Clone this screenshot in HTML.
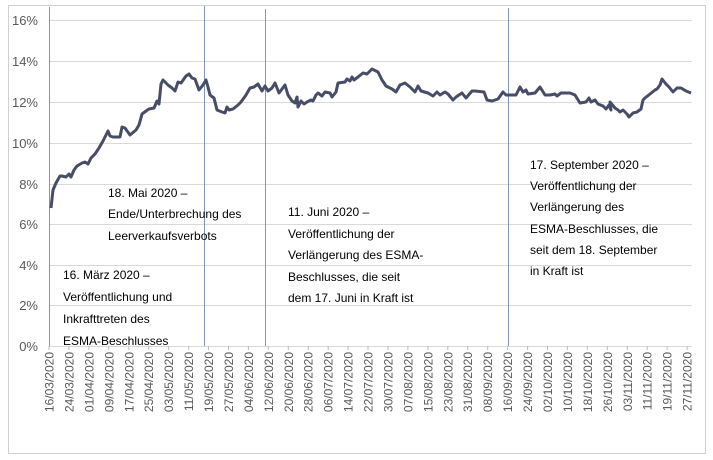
<!DOCTYPE html>
<html><head><meta charset="utf-8"><style>
body{margin:0;background:#fff;}
svg{display:block;font-family:"Liberation Sans",sans-serif;}
</style></head><body>
<svg width="713" height="460" viewBox="0 0 713 460">
<rect x="8.5" y="5.5" width="697" height="448" fill="#fff" stroke="#d0d0d0"/>
<g stroke="#d9d9d9" stroke-width="1">
<line x1="49" x2="692" y1="20.5" y2="20.5"/>
<line x1="49" x2="692" y1="61.5" y2="61.5"/>
<line x1="49" x2="692" y1="102.5" y2="102.5"/>
<line x1="49" x2="692" y1="143.5" y2="143.5"/>
<line x1="49" x2="692" y1="184.5" y2="184.5"/>
<line x1="49" x2="692" y1="224.5" y2="224.5"/>
<line x1="49" x2="692" y1="265.5" y2="265.5"/>
<line x1="49" x2="692" y1="305.5" y2="305.5"/>
<line x1="49" x2="692" y1="346.5" y2="346.5"/>
</g>
<g fill="#595959" font-size="13" text-anchor="end">
<text x="38" y="25">16%</text><text x="38" y="66">14%</text><text x="38" y="107">12%</text>
<text x="38" y="148">10%</text><text x="38" y="189">8%</text><text x="38" y="229">6%</text>
<text x="38" y="270">4%</text><text x="38" y="310">2%</text><text x="38" y="351">0%</text>
</g>
<g stroke="#7f97b5" stroke-width="1">
<line x1="49.5" x2="49.5" y1="7" y2="346"/>
<line x1="204.5" x2="204.5" y1="6" y2="346"/>
<line x1="265.5" x2="265.5" y1="9" y2="346"/>
<line x1="508.5" x2="508.5" y1="8" y2="346"/>
</g>
<polyline fill="none" stroke="#474d66" stroke-width="3" stroke-linejoin="round" points="51,208 53,190 56,183 60,176 62,176 66,177 69,174 71,177 74,170 77,166 82,163 85,162 88,164 91,158 95,154 99,148 103,141 107,133 108,131 110,136 113,137 120,137 122,127 125,128 130,135 136,130 139,125 142,114 146,111 149,109 154,108 157,101 159,104 161,84 163,80 168,85 172,88 175,91 178,82 181,83 186,76 189,74 192,78 195,79 199,90 203,85 206,80 208,87 210,95 214,98 217,110 222,112 225,113 227,107 229,110 233,109 238,105 241,102 246,95 250,88 254,87 258,84 262,91 265,86 268,91 272,88 275,83 279,93 282,89 285,85 288,95 292,101 295,103 297,97 298,107 301,101 304,104 307,102 311,100 313,101 316,95 318,93 322,96 325,92 330,93 332,97 336,92 338,83 345,82 347,79 350,81 352,77 354,80 358,77 363,73 367,74 372,69 378,72 382,80 386,86 392,89 396,92 400,85 405,83 410,87 415,92 418,86 421,91 428,93 433,96 437,92 440,95 445,92 448,94 453,100 456,97 462,93 466,98 472,91 475,91 484,92 487,100 492,101 498,99 503,92 506,95 510,95 516,95 520,87 523,92 526,90 528,94 535,93 540,87 545,95 550,95 555,94 557,96 561,93 570,93 575,95 580,103 586,102 589,98 591,102 595,100 598,104 603,106 606,109 609,105 611,110 610,102 615,108 618,110 620,112 623,110 627,114 629,117 633,113 637,112 641,109 643,100 645,98 650,94 655,90 657,89 660,85 662,79 666,84 669,87 673,92 677,88 681,88 686,91 691,93"/>
<g fill="#000" font-size="12">
<text x="63" y="279">16. März 2020 –</text><text x="63" y="301">Veröffentlichung und</text>
<text x="63" y="323">Inkrafttreten des</text><text x="63" y="345">ESMA-Beschlusses</text>
<text x="108" y="197">18. Mai 2020 –</text><text x="108" y="218">Ende/Unterbrechung des</text>
<text x="108" y="240">Leerverkaufsverbots</text>
<text x="288" y="216">11. Juni 2020 –</text><text x="288" y="238">Veröffentlichung der</text>
<text x="288" y="259">Verlängerung des ESMA-</text><text x="288" y="281">Beschlusses, die seit</text>
<text x="288" y="302">dem 17. Juni in Kraft ist</text>
<text x="530" y="169">17. September 2020 –</text><text x="530" y="190">Veröffentlichung der</text>
<text x="530" y="211">Verlängerung des</text><text x="530" y="233">ESMA-Beschlusses, die</text>
<text x="530" y="254">seit dem 18. September</text><text x="530" y="275">in Kraft ist</text>
</g>
<g stroke="#bbb">
<line x1="49" x2="49" y1="346" y2="350"/><line x1="68.9" x2="68.9" y1="346" y2="350"/><line x1="88.9" x2="88.9" y1="346" y2="350"/><line x1="108.8" x2="108.8" y1="346" y2="350"/><line x1="128.8" x2="128.8" y1="346" y2="350"/><line x1="148.7" x2="148.7" y1="346" y2="350"/><line x1="168.6" x2="168.6" y1="346" y2="350"/><line x1="188.6" x2="188.6" y1="346" y2="350"/><line x1="208.5" x2="208.5" y1="346" y2="350"/><line x1="228.5" x2="228.5" y1="346" y2="350"/><line x1="248.4" x2="248.4" y1="346" y2="350"/><line x1="268.3" x2="268.3" y1="346" y2="350"/><line x1="288.3" x2="288.3" y1="346" y2="350"/><line x1="308.2" x2="308.2" y1="346" y2="350"/><line x1="328.2" x2="328.2" y1="346" y2="350"/><line x1="348.1" x2="348.1" y1="346" y2="350"/><line x1="368" x2="368" y1="346" y2="350"/><line x1="388" x2="388" y1="346" y2="350"/><line x1="407.9" x2="407.9" y1="346" y2="350"/><line x1="427.9" x2="427.9" y1="346" y2="350"/><line x1="447.8" x2="447.8" y1="346" y2="350"/><line x1="467.7" x2="467.7" y1="346" y2="350"/><line x1="487.7" x2="487.7" y1="346" y2="350"/><line x1="507.6" x2="507.6" y1="346" y2="350"/><line x1="527.6" x2="527.6" y1="346" y2="350"/><line x1="547.5" x2="547.5" y1="346" y2="350"/><line x1="567.4" x2="567.4" y1="346" y2="350"/><line x1="587.4" x2="587.4" y1="346" y2="350"/><line x1="607.3" x2="607.3" y1="346" y2="350"/><line x1="627.3" x2="627.3" y1="346" y2="350"/><line x1="647.2" x2="647.2" y1="346" y2="350"/><line x1="667.1" x2="667.1" y1="346" y2="350"/><line x1="687.1" x2="687.1" y1="346" y2="350"/>
</g>
<g fill="#595959" font-size="12" text-anchor="end">
<text transform="translate(53.5,352) rotate(-90)">16/03/2020</text>
<text transform="translate(73.4,352) rotate(-90)">24/03/2020</text>
<text transform="translate(93.4,352) rotate(-90)">01/04/2020</text>
<text transform="translate(113.3,352) rotate(-90)">09/04/2020</text>
<text transform="translate(133.3,352) rotate(-90)">17/04/2020</text>
<text transform="translate(153.2,352) rotate(-90)">25/04/2020</text>
<text transform="translate(173.1,352) rotate(-90)">03/05/2020</text>
<text transform="translate(193.1,352) rotate(-90)">11/05/2020</text>
<text transform="translate(213,352) rotate(-90)">19/05/2020</text>
<text transform="translate(233,352) rotate(-90)">27/05/2020</text>
<text transform="translate(252.9,352) rotate(-90)">04/06/2020</text>
<text transform="translate(272.8,352) rotate(-90)">12/06/2020</text>
<text transform="translate(292.8,352) rotate(-90)">20/06/2020</text>
<text transform="translate(312.7,352) rotate(-90)">28/06/2020</text>
<text transform="translate(332.7,352) rotate(-90)">06/07/2020</text>
<text transform="translate(352.6,352) rotate(-90)">14/07/2020</text>
<text transform="translate(372.5,352) rotate(-90)">22/07/2020</text>
<text transform="translate(392.5,352) rotate(-90)">30/07/2020</text>
<text transform="translate(412.4,352) rotate(-90)">07/08/2020</text>
<text transform="translate(432.4,352) rotate(-90)">15/08/2020</text>
<text transform="translate(452.3,352) rotate(-90)">23/08/2020</text>
<text transform="translate(472.2,352) rotate(-90)">31/08/2020</text>
<text transform="translate(492.2,352) rotate(-90)">08/09/2020</text>
<text transform="translate(512.1,352) rotate(-90)">16/09/2020</text>
<text transform="translate(532.1,352) rotate(-90)">24/09/2020</text>
<text transform="translate(552,352) rotate(-90)">02/10/2020</text>
<text transform="translate(571.9,352) rotate(-90)">10/10/2020</text>
<text transform="translate(591.9,352) rotate(-90)">18/10/2020</text>
<text transform="translate(611.8,352) rotate(-90)">26/10/2020</text>
<text transform="translate(631.8,352) rotate(-90)">03/11/2020</text>
<text transform="translate(651.7,352) rotate(-90)">11/11/2020</text>
<text transform="translate(671.6,352) rotate(-90)">19/11/2020</text>
<text transform="translate(691.6,352) rotate(-90)">27/11/2020</text>
</g>
</svg>
</body></html>
